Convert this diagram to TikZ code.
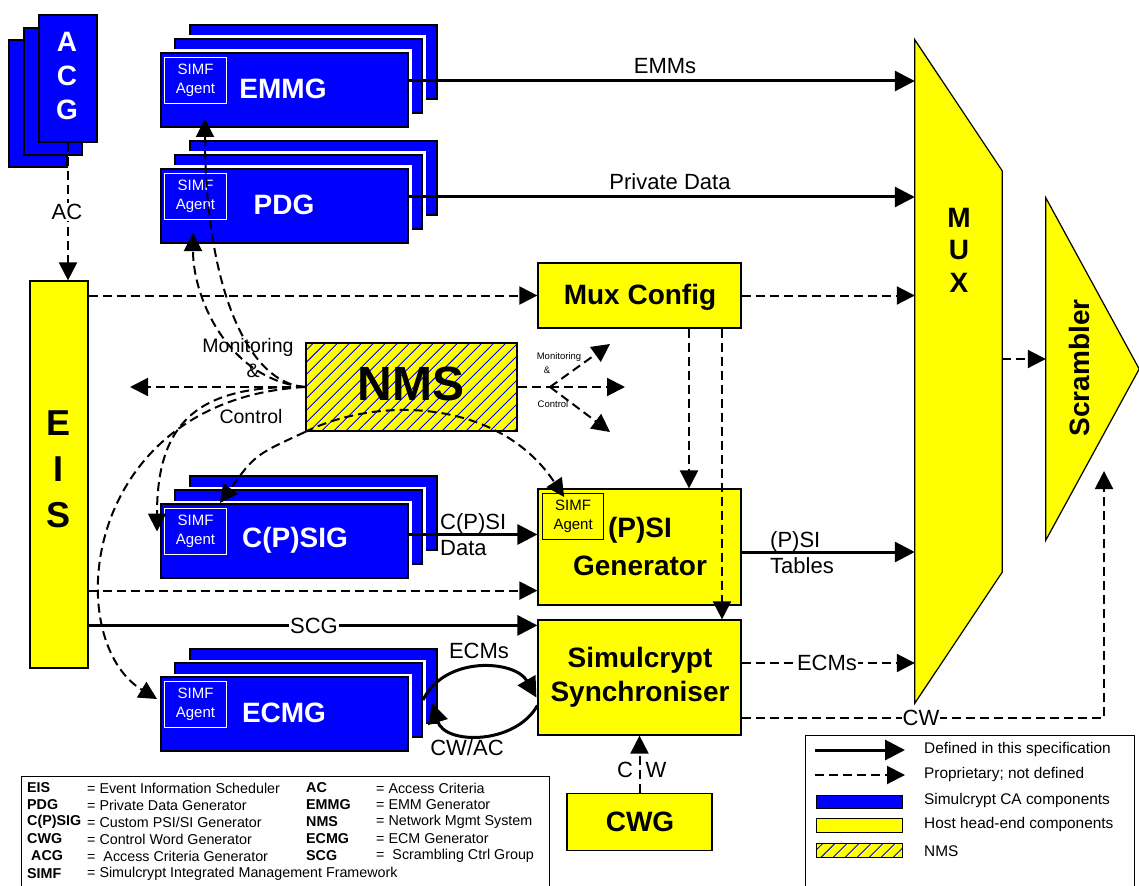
\documentclass[tikz,border=0pt]{standalone}
\usepackage{fontspec}
\setmainfont{Liberation Sans}
\usetikzlibrary{arrows.meta,patterns.meta,calc}
\definecolor{pblue}{RGB}{0,0,255}
\definecolor{pyel}{RGB}{255,255,0}
\newcommand\mystack[5]{%
 \node[blk] (#1B) at (#2+29,#3-28) {};
 \node[blk] (#1M) at (#2+14,#3-14) {};
 \node[blk] (#1F) at (#2,#3) {};
 \node[agentW] (#1A) at ($(#1F.north west)+(4,5)$) {SIMF\\Agent};
 \node[ttl, text=white] (#1T) at ($(#1F.north west)+(#5,37)$) {#4};
}
\newcommand\myrow[6]{%
 \node[abb, anchor=west] at (#1,#2) {\textbf{#3}};
 \node[abb, anchor=west] at (87,#2) {#4};
 \node[abb, anchor=west] at (306,#2) {\textbf{#5}};
 \node[abb, anchor=west] at (376,#2) {#6};
}
\begin{document}
\begin{tikzpicture}[x=1pt,y=-1pt,
 blk/.style={rectangle, anchor=north west, minimum width=247pt, minimum height=74pt, inner sep=0pt, fill=pblue, draw=black, line width=2pt, preaction={draw=white, line width=7pt}},
 acgblk/.style={rectangle, anchor=north west, minimum width=58pt, minimum height=127pt, inner sep=0pt, fill=pblue, draw=black, line width=2pt},
 agentW/.style={rectangle, anchor=north west, minimum width=62pt, minimum height=46pt, inner sep=0pt, draw=white, line width=1pt, text=white, align=center, font=\fontsize{15}{19}\selectfont},
 ttl/.style={font=\bfseries\fontsize{28}{34}\selectfont, align=center, inner sep=0pt},
 ylw/.style={rectangle, fill=pyel, draw=black, line width=1.2pt, inner sep=0pt},
 lbl/.style={font=\fontsize{22}{26}\selectfont, inner sep=1pt, align=left},
 mlbl/.style={font=\fontsize{19.5}{23}\selectfont, inner sep=0pt},
 slbl/.style={font=\fontsize{9.5}{11}\selectfont, inner sep=0pt},
 abb/.style={font=\fontsize{14.3}{16}\selectfont, inner sep=0pt},
 leg/.style={font=\fontsize{15.4}{18}\selectfont, inner sep=0pt, anchor=west},
 solid/.style={line width=3pt, -{Triangle[length=20pt,width=20pt]}},
 dsh/.style={line width=2pt, dash pattern=on 9pt off 5pt, -{Triangle[length=18pt,width=18pt]}},
 hatch/.style={draw=black, line width=2pt, preaction={fill=pyel}, preaction={pattern={Lines[angle=45,distance=8.5pt,line width=0.9pt]}, pattern color=pblue}}
]
\useasboundingbox (0,0) rectangle (1139,885);

% ACG
\node[acgblk] (acgB) at (8,39) {};
\node[acgblk] (acgM) at (23,27) {};
\node[acgblk] (acgF) at (38,14) {};
\node[ttl, text=white] (acgT) at (67,76) {A\\C\\G};

% stacks
\mystack{emmg}{160}{52}{EMMG}{123}
\mystack{pdg}{160}{168}{PDG}{124}
\mystack{cpsig}{160}{503}{C(P)SIG}{135}
\mystack{ecmg}{160}{676}{ECMG}{124}

% EIS
\node[ylw, minimum width=58pt, minimum height=387pt] (eis) at (59,474.5) {};
\node[font=\bfseries\fontsize{36}{46}\selectfont, align=center, inner sep=0pt] (eisT) at (59,469) {E\\I\\S};

% host boxes
\node[ylw, minimum width=203pt, minimum height=65pt] (muxcfg) at (639.5,295.5) {};
\node[ttl] (muxcfgT) at (640,297) {Mux Config};
\node[ylw, minimum width=203pt, minimum height=116pt] (psi) at (639.5,547) {};
\node[ttl, font=\bfseries\fontsize{28}{38}\selectfont] (psiT) at (640,546) {(P)SI\\Generator};
\node[ylw, anchor=north west, minimum width=61pt, minimum height=46pt, align=center, font=\fontsize{15}{19}\selectfont] (psiA) at (542,493) {SIMF\\Agent};
\node[ylw, minimum width=203pt, minimum height=115pt] (sync) at (639.5,677.5) {};
\node[ttl] (syncT) at (640,677) {Simulcrypt\\Synchroniser};
\node[ylw, minimum width=145pt, minimum height=57pt] (cwg) at (639.5,822) {};
\node[ttl] (cwgT) at (640,822) {CWG};

% MUX and scrambler
\node[inner sep=0pt, minimum width=87pt, minimum height=663pt] (mux) at (958.5,371.5) {};
\draw[fill=pyel, draw=black, line width=1.2pt] (mux.north west) -- ($(mux.north east)+(0,131)$) -- ($(mux.south east)+(0,-131)$) -- (mux.south west) -- cycle;
\node[font=\bfseries\fontsize{28}{32.5}\selectfont, align=center, inner sep=0pt] (muxT) at (959,250) {M\\U\\X};
\node[inner sep=0pt, minimum width=93pt, minimum height=342pt] (scr) at (1092.5,369) {};
\draw[fill=pyel, draw=black, line width=1.2pt] (scr.north west) -- (scr.east) -- (scr.south west) -- cycle;
\node[ttl, rotate=90] (scrT) at (1079,368) {Scrambler};

% NMS
\node[hatch, minimum width=211pt, minimum height=88pt] (nms) at (411.5,387) {};
\node[font=\bfseries\fontsize{48}{52}\selectfont, inner sep=0pt] (nmsT) at (411,384) {NMS};

% labels for monitoring
\node[mlbl] (mon1) at (248,347) {Monitoring};
\node[mlbl] (mon2) at (253,371) {\&};
\node[mlbl] (mon3) at (251,417) {Control};
\node[slbl] (smon1) at (559,357) {Monitoring};
\node[slbl] (smon2) at (547,370) {\&};
\node[slbl] (smon3) at (553,404) {Control};

% AC
\draw[dsh] (acgF.south) -- (acgF.south |- eis.north);
\node[lbl, fill=white] (acL) at (67,212) {AC};

% EMMs / Private data
\draw[solid] ([yshift=9pt]emmgF.east) -- ([yshift=9pt]emmgF.east -| mux.west);
\node[lbl] (emmL) at (665,66) {EMMs};
\draw[solid] ([yshift=9pt]pdgF.east) -- ([yshift=9pt]pdgF.east -| mux.west);
\node[lbl] (pdL) at (670,182) {Private Data};

% EIS outputs
\draw[dsh] (eis.east |- muxcfg.west) -- (muxcfg.west);
\coordinate (pA) at ($(psi.south west)+(0,-15)$);
\draw[dsh] (eis.east |- pA) -- (pA);
\coordinate (sA) at ($(sync.north west)+(0,6)$);
\draw[solid] (eis.east |- sA) -- (sA);
\node[lbl, fill=white] (scgL) at (314,626) {SCG};

% Mux config outputs
\draw[dsh] (muxcfg.east) -- (muxcfg.east -| mux.west);
\draw[dsh] ([xshift=49.5pt]muxcfg.south) -- ([xshift=49.5pt]psi.north);
\draw[dsh] ([xshift=82.5pt]muxcfg.south) -- ([xshift=82.5pt]sync.north);

% C(P)SI data
\draw[solid] ([yshift=6.5pt]cpsigF.east) -- ([yshift=6.5pt]cpsigF.east -| psi.west);
\node[lbl, anchor=west, align=left] (cpsiL) at (439,535) {C(P)SI\\Data};

% PSI tables
\draw[solid] ([yshift=-5pt]psi.east) -- ([yshift=-5pt]psi.east -| mux.west);
\node[lbl, anchor=west, align=left] (ptL) at (769,553) {(P)SI\\Tables};

% ECMs to MUX
\draw[dsh] ([yshift=14.5pt]sync.east) -- ([yshift=14.5pt]sync.east -| mux.west);
\node[lbl, fill=white] (ecmL2) at (827,663) {ECMs};

% CW to scrambler
\coordinate (cwC) at (1104,718);
\coordinate (scrIn) at (1104,471);
\draw[dsh] ([yshift=-40.5pt]sync.east) -- (cwC) -- (scrIn);
\node[lbl, fill=white, inner sep=0.5pt] (cwL) at (921,718) {CW};

% MUX to scrambler
\draw[dsh] ([yshift=12.5pt]mux.east) -- ([yshift=12.5pt]mux.east -| scr.west);

% CWG to sync
\draw[dsh] (cwg.north) -- (sync.south);
\node[lbl] (cL) at (625,770) {C};
\node[lbl] (wL) at (656,770) {W};

% ECM loop
\draw[line width=3pt, -{Triangle[length=20pt,width=20pt]}] (ecmgM.east) .. controls (445,655) and (515,660) .. ($(sync.west)+(-1,20)$);
\draw[line width=3pt, -{Triangle[length=20pt,width=20pt]}] ($(sync.west)+(0,28)$) .. controls (515,745) and (445,745) .. ($(ecmgM.east)+(9,3)$);
\node[lbl] (ecmL) at (479,651) {ECMs};
\node[lbl] (cwacL) at (467,748) {CW/AC};

% NMS left
\coordinate (nmsL) at (130,387);
\draw[dsh] (nms.west) -- (nmsL);
\draw[dsh] (nms.west) .. controls (245,383) and (205,280) .. ($(emmgF.south west)+(45,-9)$);
\draw[dsh] (nms.west) .. controls (230,380) and (193,300) .. ($(pdgF.south west)+(33,-11)$);
\draw[dsh] (nms.west) .. controls (200,385) and (157,420) .. ($(cpsigF.west)+(-3,-9.5)$);
\draw[dsh] (nms.west) .. controls (80,400) and (60,640) .. ($(ecmgF.west)+(-3,-15)$);
\draw[dsh] (nms.south west) .. controls (255,455) .. ($(cpsigF.north west)+(60,0)$);
\draw[dsh] (nms.south west) .. controls (380,395) and (500,400) .. ($(psiA.north)+(-9,4)$);

% NMS right
\coordinate (fan) at (550,387);
\coordinate (fanU) at (610,344);
\coordinate (fanR) at (625,387);
\coordinate (fanD) at (610,432);
\draw[line width=2pt, dash pattern=on 9pt off 5pt] (nms.east) -- (fan);
\draw[dsh] (fan) -- (fanU);
\draw[dsh] (fan) -- (fanR);
\draw[dsh] (fan) -- (fanD);

% abbreviation box
\draw[line width=1pt] (21,776) rectangle (549,895);
\myrow{27}{788}{EIS}{= Event Information Scheduler}{AC}{= Access Criteria}
\myrow{27}{805}{PDG}{= Private Data Generator}{EMMG}{= EMM Generator}
\myrow{27}{822}{C(P)SIG}{= Custom PSI/SI Generator}{NMS}{= Network Mgmt System}
\myrow{27}{839}{CWG}{= Control Word Generator}{ECMG}{= ECM Generator}
\myrow{31}{856}{ACG}{=\ \ Access Criteria Generator}{SCG}{=\ \ Scrambling Ctrl Group}
\node[abb, anchor=west] (abSIMF) at (27,874) {\textbf{SIMF}};
\node[abb, anchor=west] (abSIMFt) at (87,874) {= Simulcrypt Integrated Management Framework};

% legend
\draw[line width=1pt] (805,735) rectangle (1134,895);
\coordinate (l1a) at (815,750); \coordinate (l1b) at (905,750);
\draw[solid] (l1a) -- (l1b);
\coordinate (l2a) at (815,775); \coordinate (l2b) at (905,775);
\draw[dsh] (l2a) -- (l2b);
\node[rectangle, anchor=north west, minimum width=86pt, minimum height=13pt, inner sep=0pt, fill=pblue, draw=black, line width=1pt] (lgB) at (816,795) {};
\node[rectangle, anchor=north west, minimum width=86pt, minimum height=14pt, inner sep=0pt, fill=pyel, draw=black, line width=1pt] (lgY) at (816,818) {};
\node[rectangle, anchor=north west, minimum width=86pt, minimum height=14pt, inner sep=0pt, hatch, line width=1pt] (lgN) at (816,843) {};
\node[leg] (lt1) at (924,750) {Defined in this specification};
\node[leg] (lt2) at (924,775) {Proprietary; not defined};
\node[leg] (lt3) at (924,801) {Simulcrypt CA components};
\node[leg] (lt4) at (924,825) {Host head-end components};
\node[leg] (lt5) at (924,851) {NMS};
\end{tikzpicture}
\end{document}
